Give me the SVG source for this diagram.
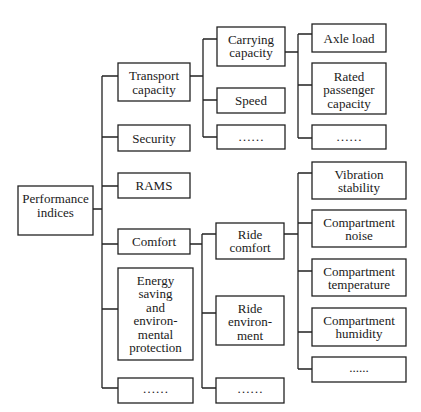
<svg xmlns="http://www.w3.org/2000/svg" width="421" height="412" viewBox="0 0 421 412" font-family="Liberation Serif, DejaVu Serif, serif">
<style>
rect{fill:#fff;stroke:#222;stroke-width:1.3}
text{font-family:"Liberation Serif", "DejaVu Serif", serif;font-size:13px;fill:#1a1a1a;text-anchor:middle}
#connectors path{fill:none;stroke:#222;stroke-width:1.3}
</style>
<rect x="0" y="0" width="421" height="412" style="stroke:none"/>
<g id="connectors">
<path d="M93 209H102M102 76V388M102 76H118M102 137H118M102 186H118M102 244H118M102 309H118M102 388H118"/>
<path d="M190 76H203M203 39V137M203 39H217M203 100H217M203 137H217"/>
<path d="M285 52H298M298 34V138M298 34H312M298 85H312M298 138H312"/>
<path d="M190 244H202M202 234V388M202 234H216M202 313H216M202 388H216"/>
<path d="M284 234H298M298 173V369M298 173H312M298 223H312M298 271H312M298 332H312M298 369H312"/>
</g>
<g id="performance"><rect x="18" y="186" width="75" height="49"/><text x="55.5" y="203" font-family="Liberation Serif, serif">Performance</text><text x="55.5" y="217" font-family="Liberation Serif, serif">indices</text></g>
<g id="transport" font-family="Liberation Serif, serif"><rect x="118" y="63" width="72" height="38"/><text x="154" y="80">Transport</text><text x="154" y="94">capacity</text></g>
<g id="security"><rect x="118" y="125" width="72" height="26"/><text x="154" y="142.5">Security</text></g>
<g id="rams"><rect x="118" y="173" width="72" height="25"/><text x="154" y="190">RAMS</text></g>
<g id="comfort"><rect x="118" y="229" width="72" height="25"/><text x="154" y="246">Comfort</text></g>
<g id="energy"><rect x="118" y="268" width="75" height="92"/><text x="155.5" y="284.5">Energy</text><text x="155.5" y="298">saving</text><text x="155.5" y="311.5">and</text><text x="155.5" y="325">environ-</text><text x="155.5" y="338.5">mental</text><text x="155.5" y="352">protection</text></g>
<g id="more1"><rect x="118" y="378" width="75" height="25"/><text x="155.5" y="393">……</text></g>
<g id="carrying"><rect x="217" y="27" width="68" height="39"/><text x="251" y="43.5">Carrying</text><text x="251" y="57">capacity</text></g>
<g id="speed"><rect x="217" y="88" width="68" height="25"/><text x="251" y="105">Speed</text></g>
<g id="more2"><rect x="217" y="125" width="68" height="24"/><text x="251" y="141">……</text></g>
<g id="axle"><rect x="312" y="24" width="74" height="28"/><text x="349" y="42.5">Axle load</text></g>
<g id="rated"><rect x="312" y="63" width="74" height="51"/><text x="349" y="80.5">Rated</text><text x="349" y="94">passenger</text><text x="349" y="107.5">capacity</text></g>
<g id="more3"><rect x="312" y="125" width="74" height="24"/><text x="349" y="141">……</text></g>
<g id="vibration"><rect x="312" y="162" width="94" height="37"/><text x="359" y="178.5">Vibration</text><text x="359" y="192">stability</text></g>
<g id="noise"><rect x="312" y="210" width="94" height="37"/><text x="359" y="226.5">Compartment</text><text x="359" y="240">noise</text></g>
<g id="temperature"><rect x="312" y="259" width="94" height="37"/><text x="359" y="275.5">Compartment</text><text x="359" y="289">temperature</text></g>
<g id="humidity"><rect x="312" y="308" width="94" height="38"/><text x="359" y="324.5">Compartment</text><text x="359" y="338">humidity</text></g>
<g id="more4"><rect x="312" y="357" width="94" height="25"/><text x="359" y="372">......</text></g>
<g id="ridecomfort"><rect x="216" y="223" width="68" height="36"/><text x="250" y="238.5">Ride</text><text x="250" y="252">comfort</text></g>
<g id="rideenv"><rect x="216" y="296" width="68" height="49"/><text x="250" y="312.5">Ride</text><text x="250" y="326">environ-</text><text x="250" y="339.5">ment</text></g>
<g id="more5"><rect x="216" y="378" width="68" height="25"/><text x="250" y="393">……</text></g>
</svg>
